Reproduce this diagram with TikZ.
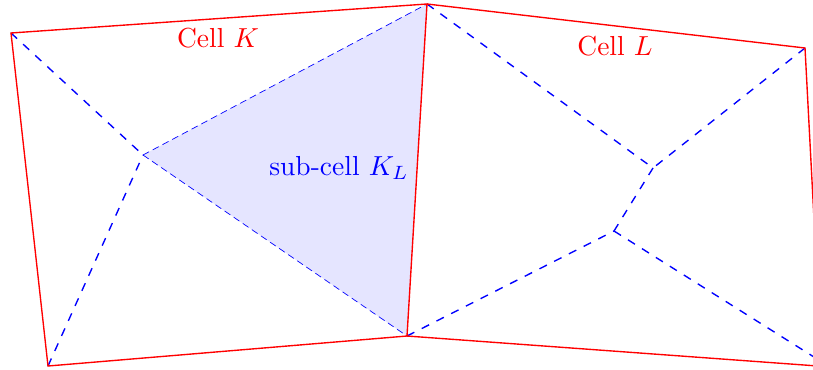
\documentclass[tikz,border=0pt]{standalone}
\begin{document}
\begin{tikzpicture}[x=0.3636pt,y=-0.3636pt,
  celledge/.style={red, line width=0.5pt},
  dualedge/.style={blue, dashed, line width=0.5pt},
  subedge/.style={blue, line width=0.25pt, dash pattern=on 2.5pt off 1.5pt},
  celllabel/.style={red, font=\normalsize},
  sublabel/.style={blue, font=\normalsize}]
\useasboundingbox (0,0) rectangle (813,369);
\clip (0,0) rectangle (813,369);
\coordinate (A) at (11,33);
\coordinate (B) at (427,4);
\coordinate (C) at (407,336);
\coordinate (D) at (48,366);
\coordinate (E) at (805,48);
\coordinate (F) at (823.5,400);
\coordinate (G) at (900,372);
\coordinate (Kc) at (143,155);
\coordinate (P1) at (653,168);
\coordinate (P2) at (614,231);
\coordinate (Q) at (860,386);
\fill[blue!10] (Kc) -- (B) -- (C) -- cycle;
\draw[subedge] (Kc) -- (B);
\draw[subedge] (Kc) -- (C);
\draw[dualedge] (A) -- (Kc);
\draw[dualedge] (D) -- (Kc);
\draw[dualedge] (B) -- (P1);
\draw[dualedge] (E) -- (P1);
\draw[dualedge] (P1) -- (P2);
\draw[dualedge] (C) -- (P2);
\draw[dualedge] (P2) -- (Q);
\draw[celledge] (A) -- (B) -- (C) -- (D) -- cycle;
\draw[celledge] (B) -- (E) -- (F);
\draw[celledge] (C) -- (G);
\node[celllabel] (lk) at (218,38) {Cell $K$};
\node[celllabel] (ll) at (615,46) {Cell $L$};
\node[sublabel] (ls) at (339,168) {sub-cell $K_L$};
\end{tikzpicture}
\end{document}
